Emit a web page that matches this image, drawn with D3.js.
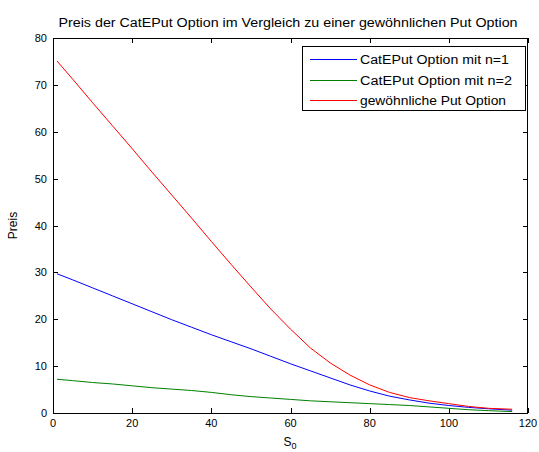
<!DOCTYPE html>
<html>
<head>
<meta charset="utf-8">
<script src="https://cdn.jsdelivr.net/npm/d3@7"></script>
<style>
  html, body { margin: 0; padding: 0; background: #ffffff; }
  svg { display: block; }
  text { font-family: "Liberation Sans", Arial, Helvetica, sans-serif; fill: #000; }
</style>
</head>
<body>
<script>
// ---- data ----
const sValues = [1, 5, 10, 15, 20, 25, 30, 35, 40, 45, 50, 55, 60, 65, 70, 75, 80, 85, 90, 95, 100, 105, 110, 116];
const catEPutN1 = [29.7, 28.4, 26.7, 25.0, 23.3, 21.6, 19.9, 18.3, 16.7, 15.2, 13.7, 12.1, 10.5, 9.0, 7.5, 6.0, 4.7, 3.6, 2.8, 2.1, 1.6, 1.2, 0.9, 0.6];
const catEPutN2 = [7.2, 6.9, 6.5, 6.2, 5.8, 5.4, 5.1, 4.8, 4.4, 3.9, 3.5, 3.2, 2.9, 2.6, 2.4, 2.2, 2.0, 1.8, 1.6, 1.3, 1.0, 0.7, 0.5, 0.3];
const putValues = [75.1, 71.2, 66.2, 61.3, 56.4, 51.4, 46.5, 41.6, 36.6, 31.7, 26.9, 22.2, 17.9, 13.9, 10.7, 8.1, 6.0, 4.4, 3.3, 2.6, 2.0, 1.4, 1.0, 0.8];
const seriesNames = ["CatEPut Option mit n=1", "CatEPut Option mit n=2", "gewöhnliche Put Option"];
const seriesColors = ["#0000ff", "#008000", "#ff0000"];
const xTicks = [0, 20, 40, 60, 80, 100, 120];
const yTicks = [0, 10, 20, 30, 40, 50, 60, 70, 80];
const titleText = "Preis der CatEPut Option im Vergleich zu einer gewöhnlichen Put Option";
const xLabel = "S";
const xLabelSub = "0";
const yLabel = "Preis";

// ---- layout ----
const W = 539, H = 452;
const L = 53, R = 528, T = 38, B = 413;

const svg = d3.select("body").append("svg").attr("width", W).attr("height", H);

const x = d3.scaleLinear().domain([0, 120]).range([L, R]);
const y = d3.scaleLinear().domain([0, 80]).range([B, T]);

// ticks (inward) on all four sides
const tickLen = 5;
const axG = svg.append("g").attr("stroke", "#000").attr("stroke-width", 1).attr("shape-rendering", "crispEdges");
xTicks.forEach(t => {
  const px = Math.round(x(t)) + 0.5;
  axG.append("line").attr("x1", px).attr("x2", px).attr("y1", B).attr("y2", B - tickLen);
  axG.append("line").attr("x1", px).attr("x2", px).attr("y1", T).attr("y2", T + tickLen);
});
yTicks.forEach(t => {
  const py = Math.round(y(t)) + 0.5;
  axG.append("line").attr("x1", L).attr("x2", L + tickLen).attr("y1", py).attr("y2", py);
  axG.append("line").attr("x1", R).attr("x2", R - tickLen).attr("y1", py).attr("y2", py);
});

// tick labels
svg.append("g").selectAll("text").data(xTicks).join("text")
  .attr("x", d => x(d)).attr("y", B + 14)
  .attr("text-anchor", "middle").attr("font-size", 11)
  .text(d => d);
svg.append("g").selectAll("text").data(yTicks).join("text")
  .attr("x", L - 6).attr("y", d => y(d) + 4)
  .attr("text-anchor", "end").attr("font-size", 11)
  .text(d => d);

// lines
const line = d3.line().x((d, i) => x(sValues[i])).y(d => y(d));
const allSeries = [catEPutN1, catEPutN2, putValues];
allSeries.forEach((s, i) => {
  svg.append("path").datum(s)
    .attr("fill", "none").attr("stroke", seriesColors[i]).attr("stroke-width", 1)
    .attr("d", line);
});

// box
svg.append("rect").attr("x", L + 0.5).attr("y", T + 0.5).attr("width", R - L - 1).attr("height", B - T)
  .attr("fill", "none").attr("stroke", "#000").attr("stroke-width", 1).attr("shape-rendering", "crispEdges");

// title
svg.append("text").attr("x", 288).attr("y", 26.5).attr("text-anchor", "middle")
  .attr("font-size", 12).attr("textLength", 459).attr("lengthAdjust", "spacingAndGlyphs")
  .text(titleText);

// axis labels
const xl = svg.append("text").attr("x", 290).attr("y", 446).attr("text-anchor", "middle").attr("font-size", 12);
xl.append("tspan").text(xLabel);
xl.append("tspan").attr("font-size", 9).attr("dy", 3).text(xLabelSub);

svg.append("text").attr("transform", `translate(17,${(T + B) / 2}) rotate(-90)`)
  .attr("text-anchor", "middle").attr("font-size", 12).text(yLabel);

// legend
const lg = svg.append("g");
lg.append("rect").attr("x", 302.5).attr("y", 46.5).attr("width", 223).attr("height", 64)
  .attr("fill", "#fff").attr("stroke", "#000").attr("stroke-width", 1).attr("shape-rendering", "crispEdges");
const rowsY = [59.5, 80.5, 100.5];
const widths = [149, 152, 146];
seriesNames.forEach((n, i) => {
  lg.append("line").attr("x1", 310).attr("x2", 357).attr("y1", rowsY[i]).attr("y2", rowsY[i])
    .attr("stroke", seriesColors[i]).attr("stroke-width", 1);
  lg.append("text").attr("x", 360).attr("y", rowsY[i] + 4.5).attr("font-size", 12)
    .attr("textLength", widths[i]).attr("lengthAdjust", "spacingAndGlyphs")
    .text(n);
});
</script>
</body>
</html>
